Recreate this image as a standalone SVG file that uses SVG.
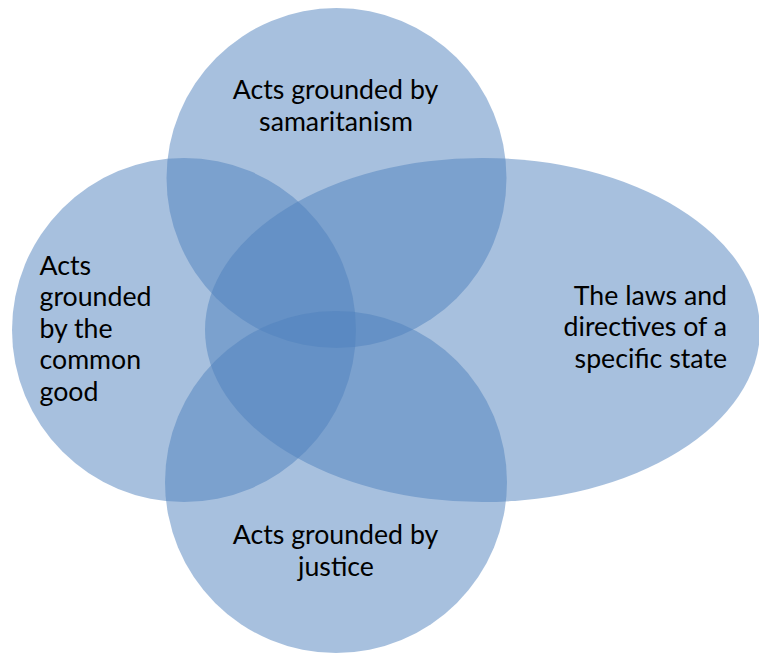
<svg xmlns="http://www.w3.org/2000/svg" width="759" height="653" viewBox="0 0 759 653">
  <style>
    .shape { fill: #4F81BD; fill-opacity: 0.5; stroke: none; }
    .lbl { font-family: Lato, "Liberation Sans", sans-serif; font-size: 26.7px; fill: #000000; }
  </style>
  <rect width="759" height="653" fill="#ffffff"/>
  <g id="connectors"></g>
  <g id="node-samaritanism">
    <circle class="shape" cx="336.5" cy="178" r="170"/>
    <text class="lbl" text-anchor="middle"><tspan x="335.5" y="99.3">Acts grounded by</tspan><tspan x="336" y="130.7">samaritanism</tspan></text>
  </g>
  <g id="node-common-good">
    <circle class="shape" cx="184" cy="330" r="172"/>
    <text class="lbl"><tspan x="39.5" y="275">Acts</tspan><tspan x="39.5" y="306.4">grounded</tspan><tspan x="39.5" y="337.8">by the</tspan><tspan x="39.5" y="369.2">common</tspan><tspan x="39.5" y="400.6">good</tspan></text>
  </g>
  <g id="node-state-laws">
    <ellipse class="shape" cx="482.5" cy="330" rx="277.5" ry="172"/>
    <text class="lbl" text-anchor="end"><tspan x="727" y="305">The laws and</tspan><tspan x="727" y="336.4">directives of a</tspan><tspan x="727" y="367.8">specific state</tspan></text>
  </g>
  <g id="node-justice">
    <circle class="shape" cx="336" cy="482" r="171"/>
    <text class="lbl" text-anchor="middle"><tspan x="335.5" y="544.3">Acts grounded by</tspan><tspan x="336" y="575.7">justice</tspan></text>
  </g>
</svg>
